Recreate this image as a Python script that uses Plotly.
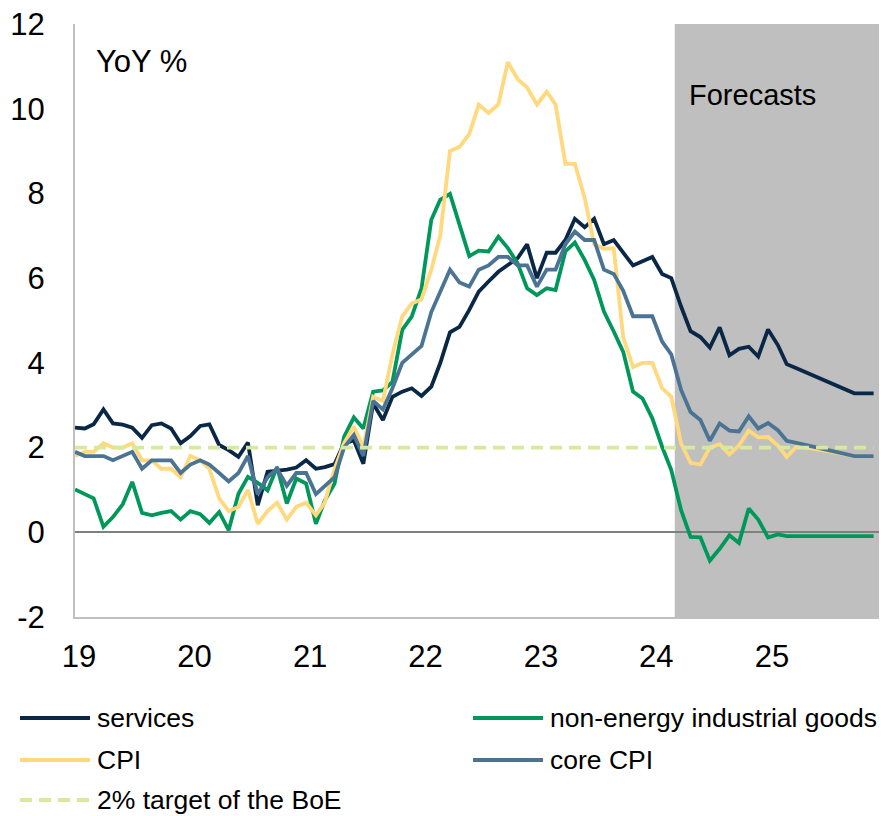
import pandas as pd
import plotly.graph_objects as go

# ---------------- data (monthly, Jan 2019 - Dec 2025) ----------------
months = pd.date_range("2019-01-01", periods=84, freq="MS")

services = [
    2.47, 2.45, 2.55, 2.90, 2.57, 2.54, 2.47, 2.23, 2.53, 2.57, 2.45, 2.10,
    2.27, 2.51, 2.55, 2.06, 1.94, 1.78, 2.12, 0.64, 1.43, 1.45, 1.48, 1.53,
    1.70, 1.50, 1.54, 1.61, 2.10, 2.17, 1.62, 3.04, 2.65, 3.20, 3.32, 3.40,
    3.22, 3.44, 3.99, 4.72, 4.85, 5.25, 5.68, 5.92, 6.15, 6.31, 6.47, 6.80,
    6.00, 6.60, 6.60, 6.90, 7.40, 7.20, 7.40, 6.80, 6.90, 6.60, 6.30, 6.40,
    6.50, 6.10, 6.00, 5.33, 4.75, 4.61, 4.36, 4.84, 4.18, 4.33, 4.38, 4.15,
    4.79, 4.42, 3.97, 3.87, 3.77, 3.67, 3.58, 3.48, 3.38, 3.28, 3.28, 3.28,
]

neig = [
    1.01, 0.91, 0.80, 0.13, 0.36, 0.66, 1.19, 0.46, 0.40, 0.46, 0.50, 0.30,
    0.50, 0.43, 0.22, 0.48, 0.05, 0.91, 1.31, 1.17, 0.99, 1.54, 0.68, 1.27,
    1.15, 0.20, 0.75, 1.15, 2.25, 2.71, 2.45, 3.32, 3.35, 3.55, 4.78, 5.09,
    5.76, 7.38, 7.85, 7.99, 7.30, 6.52, 6.65, 6.63, 6.98, 6.71, 6.35, 5.76,
    5.60, 5.76, 5.72, 6.63, 6.84, 6.43, 5.96, 5.21, 4.74, 4.26, 3.32, 3.16,
    2.69, 2.02, 1.47, 0.52, -0.11, -0.12, -0.67, -0.39, -0.07, -0.25, 0.56, 0.30,
    -0.12, -0.05, -0.09, -0.09, -0.09, -0.09, -0.09, -0.09, -0.09, -0.09, -0.09, -0.09,
]

cpi = [
    1.8, 1.9, 1.9, 2.1, 2.0, 2.0, 2.1, 1.7, 1.7, 1.5, 1.5, 1.3,
    1.8, 1.7, 1.5, 0.8, 0.5, 0.6, 1.0, 0.2, 0.5, 0.7, 0.3, 0.6,
    0.7, 0.4, 0.7, 1.5, 2.1, 2.5, 2.0, 3.2, 3.1, 4.2, 5.1, 5.4,
    5.5, 6.2, 7.0, 9.0, 9.1, 9.4, 10.1, 9.9, 10.1, 11.1, 10.7, 10.5,
    10.1, 10.4, 10.1, 8.7, 8.7, 7.9, 6.8, 6.7, 6.7, 4.6, 3.9, 4.0,
    4.0, 3.4, 3.2, 2.10, 1.64, 1.60, 2.00, 2.08, 1.84, 2.05, 2.40, 2.24,
    2.25, 2.05, 1.78, 2.02, 2.00, 1.97, 1.93, 1.88, 1.84, 1.80, 1.80, 1.80,
]

core_cpi = [
    1.9, 1.8, 1.8, 1.8, 1.7, 1.8, 1.9, 1.5, 1.7, 1.7, 1.7, 1.4,
    1.6, 1.7, 1.6, 1.4, 1.2, 1.4, 1.8, 0.9, 1.3, 1.5, 1.1, 1.4,
    1.4, 0.9, 1.1, 1.3, 2.0, 2.3, 1.8, 3.1, 2.9, 3.4, 4.0, 4.2,
    4.4, 5.2, 5.7, 6.2, 5.9, 5.8, 6.2, 6.3, 6.5, 6.5, 6.3, 6.3,
    5.8, 6.2, 6.2, 6.8, 7.1, 6.9, 6.9, 6.2, 6.1, 5.7, 5.1, 5.1,
    5.1, 4.5, 4.2, 3.36, 2.84, 2.65, 2.16, 2.57, 2.40, 2.38, 2.74, 2.45,
    2.58, 2.41, 2.16, 2.11, 2.06, 2.01, 1.95, 1.90, 1.85, 1.80, 1.80, 1.80,
]

boe_target = [2.0] * 84

year_ticks = pd.date_range("2019-01-01", periods=7, freq="YS")
year_labels = ["19", "20", "21", "22", "23", "24", "25"]
y_ticks = [-2, 0, 2, 4, 6, 8, 10, 12]
y_labels = ["-2", "0", "2", "4", "6", "8", "10", "12"]
forecast_start = "2024-03-12"
x_end = "2025-12-18"

# ---------------- styling ----------------
FONT = "Liberation Sans, Arial, sans-serif"
TICK_FS = 31
LEG_FS = 26.5
series = [
    ("services", services, "#0a2846", "solid"),
    ("non-energy industrial goods", neig, "#00985a", "solid"),
    ("CPI", cpi, "#ffd97c", "solid"),
    ("core CPI", core_cpi, "#4b7394", "solid"),
    ("2% target of the BoE", boe_target, "#d6e99c", "12px,7px"),
]

W, H = 881, 816
L, T, PW, PH = 75, 24, 804, 593


def px(x):
    return (x - L) / PW


def py(y):
    return (T + PH - y) / PH


fig = go.Figure()
for name, vals, color, dash in series:
    fig.add_trace(go.Scatter(
        x=months, y=vals, mode="lines", name=name,
        line=dict(color=color, width=3.8, dash=dash),
        showlegend=False,
    ))

shapes = [
    dict(type="rect", xref="x", yref="paper", x0=forecast_start, x1=x_end,
         y0=0, y1=1, fillcolor="#bfbfbf", line=dict(width=0), layer="below"),
]

# manual legend (two columns)
leg_pos = [(20, 718), (473, 718), (20, 760), (473, 760), (20, 800)]
annotations = []
for (name, vals, color, dash), (lx, ly) in zip(series, leg_pos):
    shapes.append(dict(type="line", xref="paper", yref="paper",
                       x0=px(lx), x1=px(lx + 70), y0=py(ly), y1=py(ly),
                       line=dict(color=color, width=4, dash=dash)))
    annotations.append(dict(xref="paper", yref="paper", x=px(lx + 75), y=py(ly),
                            text=name, showarrow=False, xanchor="left", yanchor="middle",
                            font=dict(family=FONT, size=LEG_FS, color="#000000")))

annotations.append(dict(xref="paper", yref="paper", x=px(94), y=py(62), text="YoY %",
                        showarrow=False, xanchor="left", yanchor="middle",
                        font=dict(family=FONT, size=31, color="#000000")))
annotations.append(dict(xref="paper", yref="paper", x=px(687), y=py(95), text="Forecasts",
                        showarrow=False, xanchor="left", yanchor="middle",
                        font=dict(family=FONT, size=29, color="#000000")))

fig.update_layout(
    width=W, height=H,
    margin=dict(l=L, r=W - L - PW, t=T, b=H - T - PH, pad=0),
    paper_bgcolor="white", plot_bgcolor="white",
    shapes=shapes, annotations=annotations,
    font=dict(family=FONT, size=TICK_FS, color="#000000"),
    xaxis=dict(
        type="date", range=["2019-01-01", x_end],
        tickvals=year_ticks, ticktext=year_labels, ticks="",
        showgrid=False, zeroline=False,
        showline=True, linecolor="#bfbfbf", linewidth=2,
        ticklabelstandoff=11, ticklabelshift=4,
        tickfont=dict(family=FONT, size=TICK_FS, color="#000000"),
    ),
    yaxis=dict(
        range=[-2, 12], tickvals=y_ticks, ticktext=y_labels, ticks="",
        showgrid=False,
        zeroline=True, zerolinecolor="#7f7f7f", zerolinewidth=1.5,
        showline=True, linecolor="#bfbfbf", linewidth=2,
        ticklabelstandoff=22,
        tickfont=dict(family=FONT, size=TICK_FS, color="#000000"),
    ),
)

fig.write_html("out.html", config={"displayModeBar": False},
               post_script="document.body.style.margin='0px';")
